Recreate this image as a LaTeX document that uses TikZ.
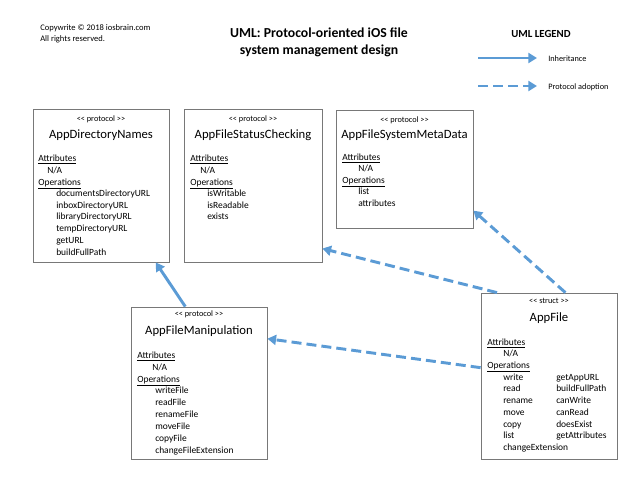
\documentclass[tikz,border=0pt]{standalone}
\usepackage{fontspec}
\setmainfont{Carlito}
\usetikzlibrary{arrows.meta,fit,calc}
\definecolor{umlblue}{RGB}{91,155,213}
\definecolor{boxgray}{RGB}{120,120,120}
\newcommand\umlln[4]{\node[txt] (#1) at (#2,#3) {#4};}
\newcommand\umlproto{{<}{<} protocol {>}{>}}
\begin{document}
\begin{tikzpicture}[x=0.75pt,y=-0.75pt,
  txt/.style={anchor=base west,inner sep=0,font=\fontsize{7.1}{8.5}\selectfont},
  stereo/.style={anchor=base,inner sep=0,font=\fontsize{6.2}{7}\selectfont},
  cname/.style={anchor=base,inner sep=0,font=\fontsize{9.5}{11}\selectfont},
  umlbox/.style={draw=boxgray,line width=0.6pt,inner sep=0,fill=white},
  inherit/.style={draw=umlblue,line width=2.2pt,-{Triangle[length=6.5pt,width=7.5pt]}},
  adopt/.style={draw=umlblue,line width=2.2pt,dash pattern=on 7.5pt off 3.8pt,-{Triangle[length=6.5pt,width=7.5pt]}},
  small/.style={anchor=base west,inner sep=0,font=\fontsize{6.4}{7.5}\selectfont}]
\useasboundingbox (0,0) rectangle (635,480);
% header
\node[small] (cp1) at (40,30) {Copywrite © 2018 iosbrain.com};
\node[small] (cp2) at (40,41) {All rights reserved.};
\node[anchor=base,inner sep=0,font=\fontsize{10.3}{12}\bfseries] (t1) at (319,37) {UML: Protocol-oriented iOS file};
\node[anchor=base,inner sep=0,font=\fontsize{10.3}{12}\bfseries] (t2) at (319,54) {system management design};
\node[anchor=base,inner sep=0,font=\fontsize{8.1}{9}\bfseries] (lg) at (541,37) {UML LEGEND};
\coordinate (lia) at (478,58);
\coordinate (lib) at (537,58);
\coordinate (lpa) at (478,86);
\coordinate (lpb) at (537,86);
\draw[inherit] (lia) -- (lib);
\draw[adopt] (lpa) -- (lpb);
\node[small,font=\fontsize{6.2}{7.5}\selectfont] (lit) at (548,61) {Inheritance};
\node[small,font=\fontsize{6.2}{7.5}\selectfont] (lpt) at (548,89) {Protocol adoption};
% boxes
\node[umlbox,fit={(33,109)(169,262)}] (dir) {};
\node[umlbox,fit={(184,109)(322,262)}] (stat) {};
\node[umlbox,fit={(336,110)(473,228)}] (meta) {};
\node[umlbox,fit={(131,307)(267,459)}] (man) {};
\node[umlbox,fit={(481,293)(617,459)}] (file) {};
% AppDirectoryNames
\node[stereo] (dirs) at (101,121) {\umlproto};
\node[cname] (dirn) at (101,138) {AppDirectoryNames};
\umlln{dira}{38}{161}{\underline{Attributes}}
\umlln{dirb}{47}{173}{N/A}
\umlln{dirc}{38}{185}{\underline{Operations}}
\umlln{dird}{56}{196.5}{documentsDirectoryURL}
\umlln{dire}{56}{208}{inboxDirectoryURL}
\umlln{dirf}{56}{219.5}{libraryDirectoryURL}
\umlln{dirg}{56}{231}{tempDirectoryURL}
\umlln{dirh}{56}{243}{getURL}
\umlln{diri}{56}{255}{buildFullPath}
% AppFileStatusChecking
\node[stereo] (stats) at (253,121) {\umlproto};
\node[cname] (statn) at (253,138) {AppFileStatusChecking};
\umlln{stata}{190}{161}{\underline{Attributes}}
\umlln{statb}{200}{173}{N/A}
\umlln{statc}{190}{185}{\underline{Operations}}
\umlln{statd}{207}{196.5}{isWritable}
\umlln{state}{207}{208}{isReadable}
\umlln{statf}{207}{219.5}{exists}
% AppFileSystemMetaData
\node[stereo] (metas) at (404.5,122) {\umlproto};
\node[cname] (metan) at (404.5,138) {AppFileSystemMetaData};
\umlln{metaa}{342}{160}{\underline{Attributes}}
\umlln{metab}{358}{171.5}{N/A}
\umlln{metac}{342}{183}{\underline{Operations}}
\umlln{metad}{358}{194.5}{list}
\umlln{metae}{358}{206}{attributes}
% AppFileManipulation
\node[stereo] (mans) at (199,316) {\umlproto};
\node[cname] (mann) at (199,334) {AppFileManipulation};
\umlln{mana}{137}{358}{\underline{Attributes}}
\umlln{manb}{152}{370}{N/A}
\umlln{manc}{137}{382}{\underline{Operations}}
\umlln{mand}{155}{393.5}{writeFile}
\umlln{mane}{155}{405}{readFile}
\umlln{manf}{155}{417}{renameFile}
\umlln{mang}{155}{429}{moveFile}
\umlln{manh}{155}{441}{copyFile}
\umlln{mani}{155}{453}{changeFileExtension}
% AppFile
\node[stereo] (files) at (549,303) {{<}{<} struct {>}{>}};
\node[cname] (filen) at (549,321) {AppFile};
\umlln{filea}{487}{345}{\underline{Attributes}}
\umlln{fileb}{503}{356.5}{N/A}
\umlln{filec}{487}{368}{\underline{Operations}}
\umlln{filed}{503}{380}{write}
\umlln{filee}{503}{391.5}{read}
\umlln{filef}{503}{403}{rename}
\umlln{fileg}{503}{415}{move}
\umlln{fileh}{503}{427}{copy}
\umlln{filei}{503}{438.5}{list}
\umlln{filej}{503}{450}{changeExtension}
\umlln{filek}{556}{380}{getAppURL}
\umlln{filel}{556}{391.5}{buildFullPath}
\umlln{filem}{556}{403}{canWrite}
\umlln{filen2}{556}{415}{canRead}
\umlln{fileo}{556}{427}{doesExist}
\umlln{filep}{556}{438.5}{getAttributes}
% connectors
\draw[inherit] ($(man.north west)!0.4!(man.north east)$) -- ($(dir.south west)!0.9!(dir.south east)$);
\draw[adopt] ($(file.north west)!0.12!(file.north east)$) -- ($(stat.north east)!0.91!(stat.south east)$);
\draw[adopt] ($(file.north west)!0.62!(file.north east)$) -- ($(meta.north east)!0.85!(meta.south east)$);
\draw[adopt] ($(file.north west)!0.45!(file.south west)$) -- ($(man.north east)!0.21!(man.south east)$);
\end{tikzpicture}
\end{document}
